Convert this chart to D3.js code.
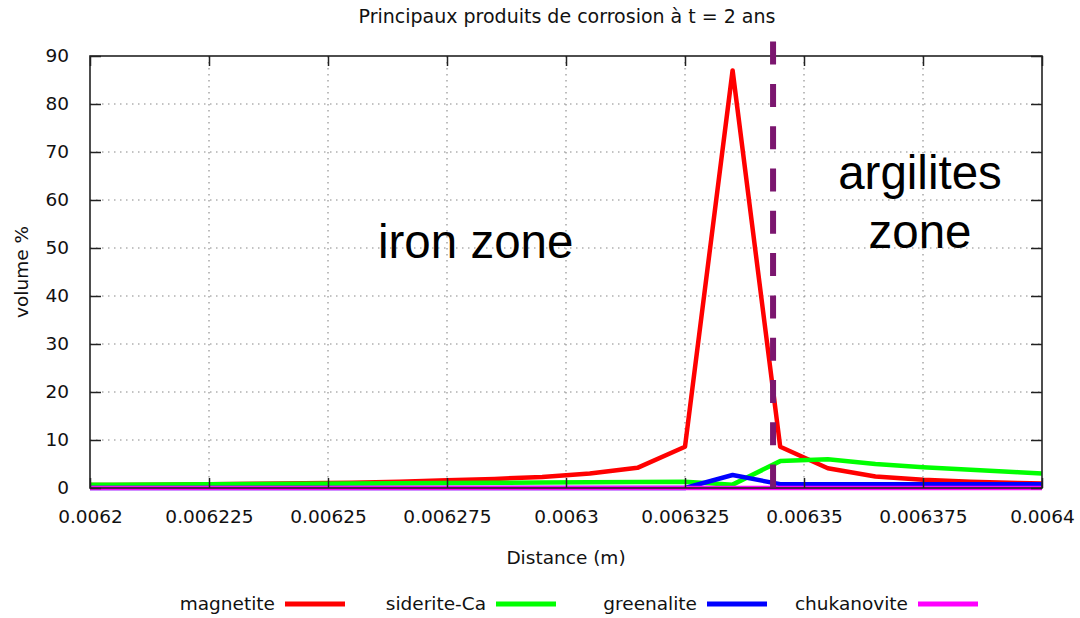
<!DOCTYPE html>
<html>
<head>
<meta charset="utf-8">
<script src="https://cdn.jsdelivr.net/npm/d3@7"></script>
<style>
  html, body { margin: 0; padding: 0; background: #fff; }
  svg { display: block; }
  text { font-family: "DejaVu Sans", Verdana, sans-serif; fill: #111; }
  .zone { font-family: "Liberation Sans", Arial, sans-serif; fill: #000; }
</style>
</head>
<body>
<script>
// Distance grid (m) and volume fractions (%) of each corrosion product
const distance = [0.0062, 0.006205, 0.006215, 0.006225, 0.006235, 0.006245, 0.006255, 0.006265,
  0.006275, 0.006285, 0.006295, 0.006305, 0.006315, 0.006325, 0.006335, 0.006345,
  0.006355, 0.006365, 0.006375, 0.006385, 0.006395, 0.0064];
const magnetite = [0.6, 0.6, 0.7, 0.8, 0.9, 1.0, 1.1, 1.3, 1.6, 1.9, 2.3, 3.0, 4.2, 8.6, 87.0, 8.6,
  4.1, 2.4, 1.7, 1.3, 1.05, 0.95];
const sideriteCa = [0.7, 0.7, 0.75, 0.8, 0.85, 0.9, 0.95, 1.0, 1.05, 1.1, 1.15, 1.2, 1.25, 1.3, 0.7, 5.6,
  6.0, 5.0, 4.3, 3.8, 3.3, 3.0];
const greenalite = [0, 0, 0, 0, 0, 0, 0, 0, 0, 0, 0, 0, 0, 0, 2.7, 0.8,
  0.8, 0.8, 0.8, 0.8, 0.8, 0.8];
const chukanovite = [0, 0, 0, 0, 0, 0, 0, 0, 0, 0, 0, 0, 0, 0, 0, 0,
  0, 0, 0, 0, 0, 0];

const seriesNames = ["magnetite", "siderite-Ca", "greenalite", "chukanovite"];
const seriesColors = ["#ff0000", "#00ff00", "#0000ff", "#ff00ff"];
const seriesValues = [magnetite, sideriteCa, greenalite, chukanovite];

const xTicks = [0.0062, 0.006225, 0.00625, 0.006275, 0.0063, 0.006325, 0.00635, 0.006375, 0.0064];
const xTickLabels = ["0.0062", "0.006225", "0.00625", "0.006275", "0.0063", "0.006325", "0.00635", "0.006375", "0.0064"];
const yTicks = [0, 10, 20, 30, 40, 50, 60, 70, 80, 90];

// Iron / argilites interface position (m) and the top of its marker (%)
const interfaceX = 0.0063435;
const interfaceTop = 93;

const W = 1080, H = 618;
const plotL = 90, plotR = 1042, plotT = 56, plotB = 488;

const svg = d3.select("body").append("svg").attr("width", W).attr("height", H);

const x = d3.scaleLinear().domain([0.0062, 0.0064]).range([plotL, plotR]);
const y = d3.scaleLinear().domain([0, 90]).range([plotB, plotT]);

// dotted grid
const grid = svg.append("g").attr("stroke", "#888").attr("stroke-width", 1.1)
  .attr("stroke-dasharray", "1.5,4.5");
grid.selectAll("line.gx").data(xTicks.slice(1, -1)).join("line").attr("class", "gx")
  .attr("x1", d => x(d)).attr("x2", d => x(d)).attr("y1", plotT).attr("y2", plotB);
grid.selectAll("line.gy").data(yTicks.slice(1, -1)).join("line").attr("class", "gy")
  .attr("x1", plotL).attr("x2", plotR).attr("y1", d => y(d)).attr("y2", d => y(d));

// series lines
const line = d3.line().x((d, i) => x(distance[i])).y(d => y(d));
svg.append("g").selectAll("path").data(seriesValues).join("path")
  .attr("d", d => line(d))
  .attr("fill", "none")
  .attr("stroke", (d, i) => seriesColors[i])
  .attr("stroke-width", 4.5)
  .attr("stroke-linejoin", "round");

// axes with inward ticks on all sides
const axisStyle = g => {
  g.select(".domain").remove();
  g.selectAll(".tick line").attr("stroke", "#222").attr("stroke-width", 1.5);
  g.selectAll(".tick text").attr("font-size", "18.5px").attr("fill", "#111")
    .attr("font-family", "DejaVu Sans, Verdana, sans-serif");
};
svg.append("g").attr("transform", `translate(0,${plotB})`)
  .call(d3.axisBottom(x).tickValues(xTicks).tickSize(-10).tickPadding(22)
    .tickFormat((d, i) => xTickLabels[i]))
  .call(axisStyle);
svg.append("g").attr("transform", `translate(0,${plotT})`)
  .call(d3.axisTop(x).tickValues(xTicks).tickSize(-10).tickFormat(""))
  .call(axisStyle);
svg.append("g").attr("transform", `translate(${plotL},0)`)
  .call(d3.axisLeft(y).tickValues(yTicks).tickSize(-11).tickPadding(21)
    .tickFormat(d3.format("d")))
  .call(axisStyle);
svg.append("g").attr("transform", `translate(${plotR},0)`)
  .call(d3.axisRight(y).tickValues(yTicks).tickSize(-11).tickFormat(""))
  .call(axisStyle);

// plot border
svg.append("rect").attr("x", plotL).attr("y", plotT)
  .attr("width", plotR - plotL).attr("height", plotB - plotT)
  .attr("fill", "none").attr("stroke", "#222").attr("stroke-width", 1.6);

// interface marker
svg.append("line")
  .attr("x1", x(interfaceX)).attr("x2", x(interfaceX))
  .attr("y1", y(interfaceTop)).attr("y2", y(0))
  .attr("stroke", "#7b166f").attr("stroke-width", 6)
  .attr("stroke-dasharray", "23,19.3");

// titles
svg.append("text").attr("x", (plotL + plotR) / 2 + 1).attr("y", 23)
  .attr("text-anchor", "middle").attr("font-size", "19px")
  .text("Principaux produits de corrosion à t = 2 ans");
svg.append("text").attr("x", (plotL + plotR) / 2).attr("y", 564)
  .attr("text-anchor", "middle").attr("font-size", "18.5px")
  .text("Distance (m)");
svg.append("text").attr("transform", `translate(28,${(plotT + plotB) / 2}) rotate(-90)`)
  .attr("text-anchor", "middle").attr("font-size", "18.5px")
  .text("volume %");

// zone annotations
svg.append("text").attr("class", "zone").attr("x", 378).attr("y", 258)
  .attr("font-size", "47.5px").text("iron zone");
svg.append("text").attr("class", "zone").attr("x", 920).attr("y", 189)
  .attr("text-anchor", "middle").attr("font-size", "47.5px").text("argilites");
svg.append("text").attr("class", "zone").attr("x", 920).attr("y", 248)
  .attr("text-anchor", "middle").attr("font-size", "47.5px").text("zone");

// legend
const legend = svg.append("g").selectAll("g").data(seriesNames).join("g")
  .attr("transform", (d, i) => `translate(${275 + i * 211},604)`);
legend.append("text").attr("text-anchor", "end").attr("dy", "0.35em")
  .attr("font-size", "18.5px").text(d => d);
legend.append("line").attr("x1", 10).attr("x2", 70).attr("y1", 0).attr("y2", 0)
  .attr("stroke", (d, i) => seriesColors[i]).attr("stroke-width", 5);
</script>
</body>
</html>
